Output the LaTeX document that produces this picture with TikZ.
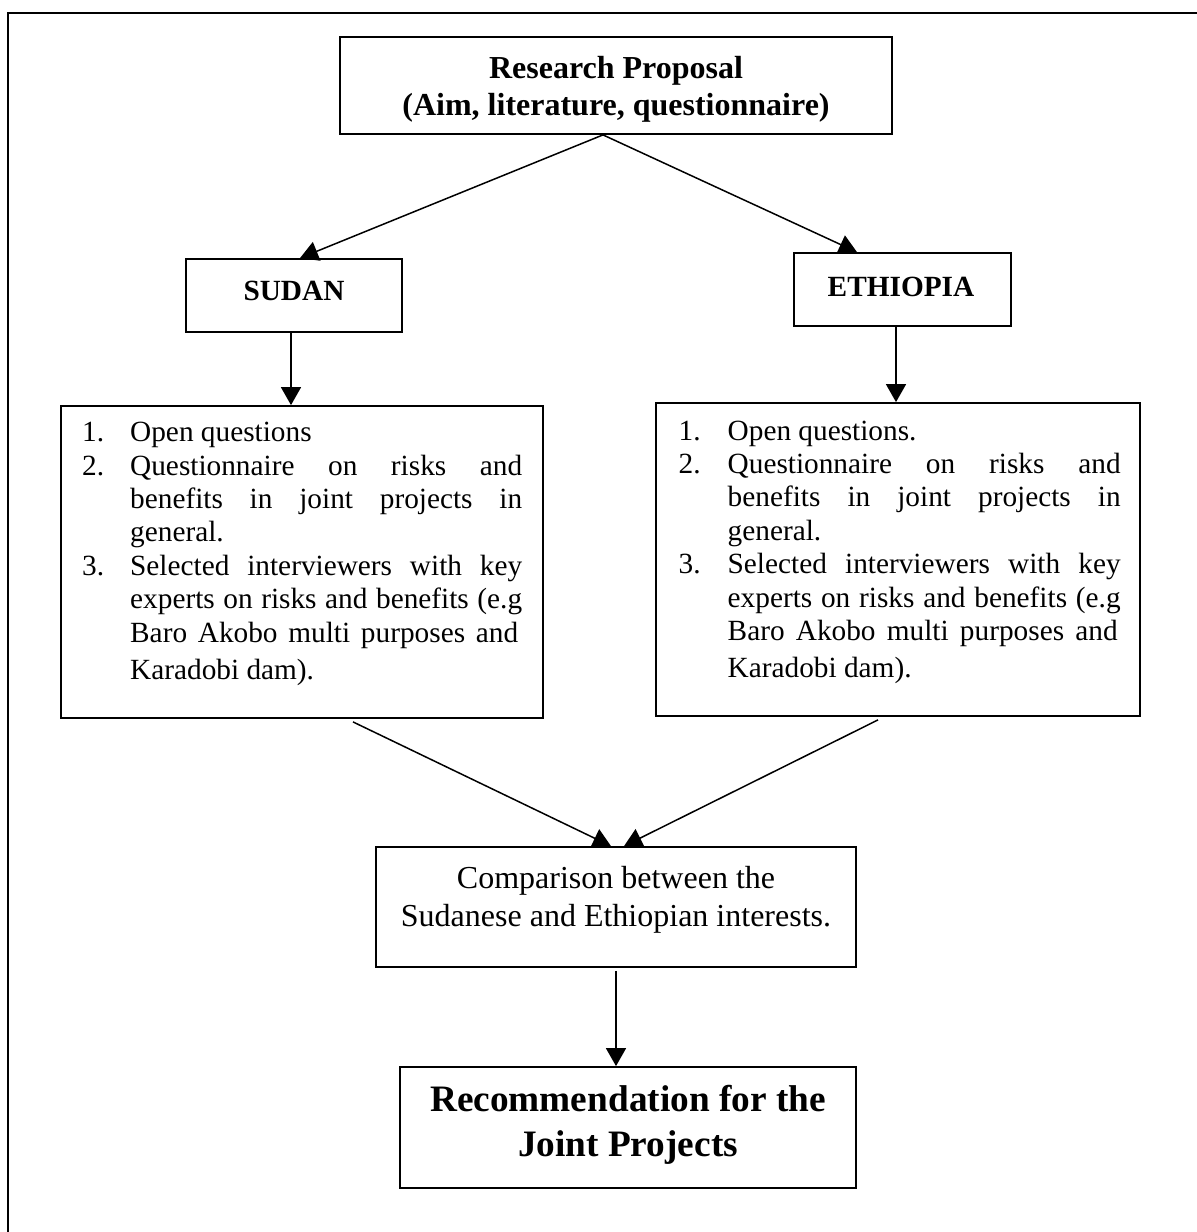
\documentclass[tikz,border=0pt]{standalone}
\usepackage{fontspec}
\setmainfont{Liberation Serif}
\usetikzlibrary{arrows.meta}
\newcommand\jline[2][392pt]{\hbox to #1{#2}}
\begin{document}
\begin{tikzpicture}[x=1pt,y=-1pt,
  boxstyle/.style={draw, line width=1.8pt, inner sep=0pt},
  txt/.style={inner sep=0pt, anchor=base},
  arr/.style={line width=1.5pt, -{Triangle[length=18pt,width=20pt]}},
  framestyle/.style={line width=2.2pt}]
\useasboundingbox (0,0) rectangle (1197,1232);
% outer frame
\coordinate (fb) at (8,1240);
\coordinate (ftl) at (8,13);
\coordinate (ftr) at (1205,13);
\draw[framestyle] (fb) -- (ftl) -- (ftr);
% boxes
\node[boxstyle, minimum width=552pt, minimum height=97pt] (rp) at (616,85.5) {};
\node[boxstyle, minimum width=216pt, minimum height=73pt] (sudan) at (294,295.5) {};
\node[boxstyle, minimum width=217pt, minimum height=73pt] (eth) at (902.5,289.5) {};
\node[boxstyle, minimum width=482pt, minimum height=312pt] (sl) at (302,562) {};
\node[boxstyle, minimum width=484pt, minimum height=313pt] (el) at (898,559.5) {};
\node[boxstyle, minimum width=480pt, minimum height=120pt] (cmp) at (616,907) {};
\node[boxstyle, minimum width=456pt, minimum height=121pt] (rec) at (628,1127.5) {};
% texts
\node[txt] (rpt) at (616,78) {\fontsize{32}{37}\selectfont\bfseries
  \begin{tabular}[t]{@{}c@{}}Research Proposal\\(Aim, literature, questionnaire)\end{tabular}};
\node[txt] (sut) at (294,300) {\fontsize{29.3}{33.7}\selectfont\bfseries SUDAN};
\node[txt] (etht) at (901,296) {\fontsize{29.3}{33.7}\selectfont\bfseries ETHIOPIA};
\node[txt, anchor=base west] (slt) at (82,441.7) {\fontsize{29.3}{33.4}\selectfont
  \begin{tabular}[t]{@{}p{48pt}@{}l@{}}
  1. & Open questions\\
  2. & \jline{Questionnaire\hfill on\hfill risks\hfill and}\\
     & \jline{benefits\hfill in\hfill joint\hfill projects\hfill in}\\
     & general.\\
  3. & \jline{Selected\hfill interviewers\hfill with\hfill key}\\
     & \jline{experts\hfill on\hfill risks\hfill and\hfill benefits\hfill (e.g}\\
     & \jline[388pt]{Baro\hfill Akobo\hfill multi\hfill purposes\hfill and}\\[3.6pt]
     & Karadobi dam).
  \end{tabular}};
\node[txt, anchor=base west] (elt) at (678.5,440) {\fontsize{29.3}{33.4}\selectfont
  \begin{tabular}[t]{@{}p{49pt}@{}l@{}}
  1. & Open questions.\\
  2. & \jline[393pt]{Questionnaire\hfill on\hfill risks\hfill and}\\
     & \jline[393pt]{benefits\hfill in\hfill joint\hfill projects\hfill in}\\
     & general.\\
  3. & \jline[393pt]{Selected\hfill interviewers\hfill with\hfill key}\\
     & \jline[393pt]{experts\hfill on\hfill risks\hfill and\hfill benefits\hfill (e.g}\\
     & \jline[390pt]{Baro\hfill Akobo\hfill multi\hfill purposes\hfill and}\\[3.6pt]
     & Karadobi dam).
  \end{tabular}};
\node[txt] (cmpt) at (616,888) {\fontsize{32}{38}\selectfont
  \begin{tabular}[t]{@{}c@{}}Comparison between the\\Sudanese and Ethiopian interests.\end{tabular}};
\node[txt] (rect) at (628,1111) {\fontsize{37.3}{45}\selectfont\bfseries
  \begin{tabular}[t]{@{}c@{}}Recommendation for the\\Joint Projects\end{tabular}};
% connectors
\draw[arr] ([xshift=-13pt]rp.south) -- ([xshift=6pt]sudan.north);
\draw[arr] ([xshift=-13pt]rp.south) -- ([xshift=-45.5pt]eth.north);
\draw[arr] ([xshift=-3pt]sudan.south) -- ([xshift=-11pt]sl.north);
\draw[arr] ([xshift=-6.5pt]eth.south) -- ([xshift=-2pt]el.north);
\draw[arr] ([xshift=51pt,yshift=-3pt]sl.south) -- ([xshift=-5pt]cmp.north);
\draw[arr] ([xshift=-20pt,yshift=-3pt]el.south) -- ([xshift=8pt]cmp.north);
\draw[arr] ([yshift=-3pt]cmp.south) -- ([xshift=-12pt]rec.north);
\end{tikzpicture}
\end{document}
